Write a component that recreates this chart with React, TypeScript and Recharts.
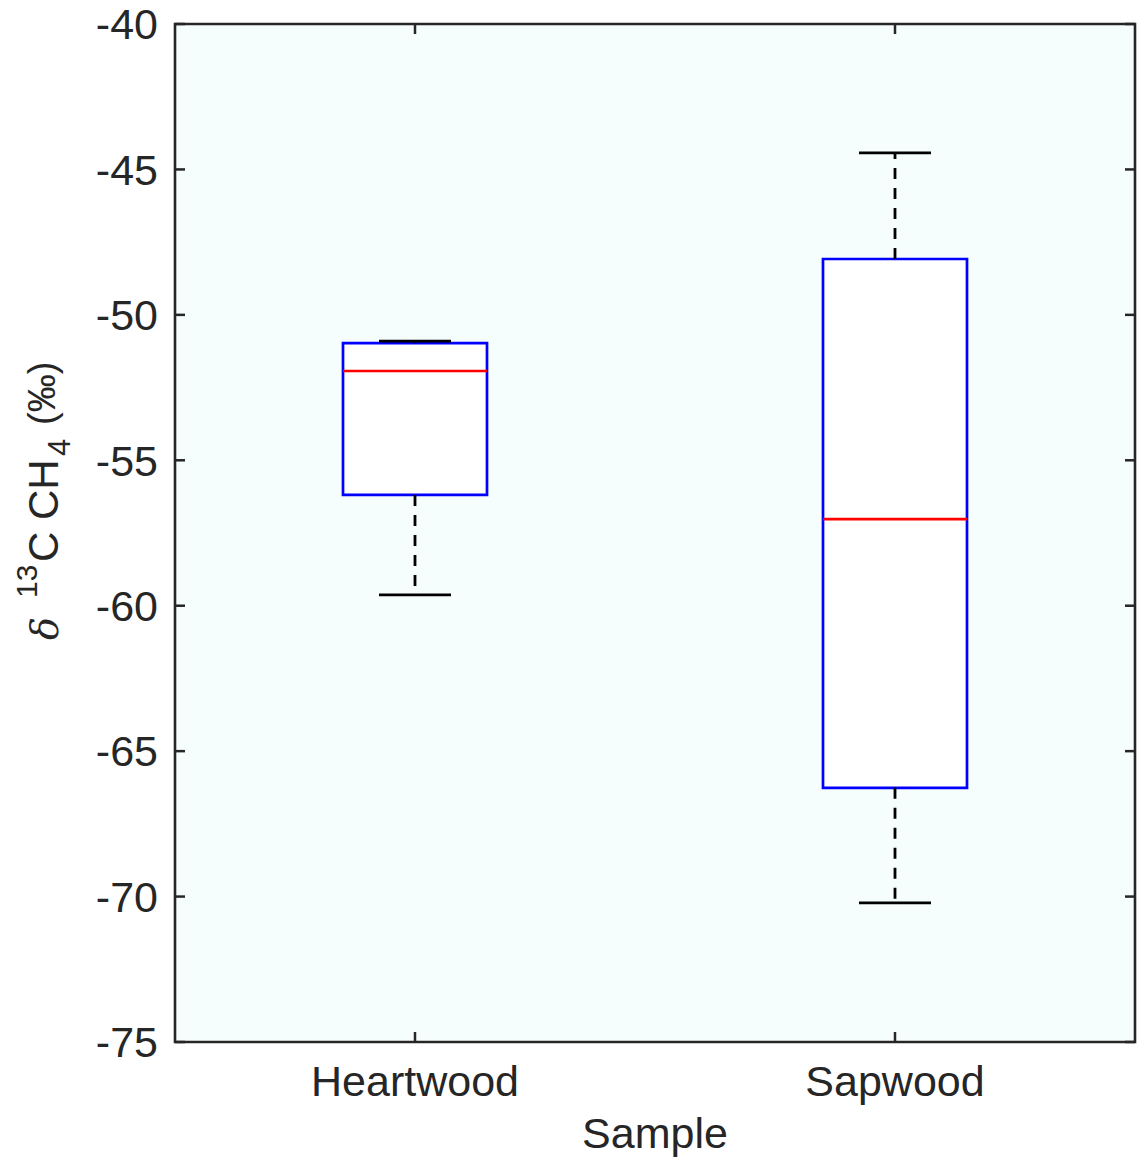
import React from 'react';
import {
  ComposedChart,
  XAxis,
  YAxis,
  CartesianGrid,
  ReferenceArea,
  ReferenceLine,
  Scatter,
} from 'recharts';

const categories = ['Heartwood', 'Sapwood'];
const whiskerLow = [-59.63, -70.22];
const q1 = [-56.19, -66.26];
const median = [-51.93, -57.02];
const q3 = [-50.97, -48.08];
const whiskerHigh = [-50.9, -44.43];
const yTicks = [-75, -70, -65, -60, -55, -50, -45, -40];
const yDomain: [number, number] = [-75, -40];
const xDomain: [number, number] = [0.5, 2.5];

const BOX_HALF = 0.15;
const CAP_HALF = 0.075;
const FONT = '"Liberation Sans", Arial, Helvetica, sans-serif';
const AXIS_COLOR = '#262626';
const TICK_FONT = 43;
const TICK_LEN = 10;

// plot-area layout (from chart margins)
const PLOT_LEFT = 175;
const PLOT_RIGHT = 1135;
const PLOT_TOP = 24;
const PLOT_BOTTOM = 1042;

const points = categories.map((c, i) => ({ x: i + 1, y: median[i] }));

const YTick = (props: any) => {
  const { y, payload } = props;
  return (
    <g>
      <line x1={PLOT_LEFT} x2={PLOT_LEFT + TICK_LEN} y1={y} y2={y} stroke={AXIS_COLOR} strokeWidth={2.5} />
      <line x1={PLOT_RIGHT - TICK_LEN} x2={PLOT_RIGHT} y1={y} y2={y} stroke={AXIS_COLOR} strokeWidth={2.5} />
      <text
        x={PLOT_LEFT - 17}
        y={y}
        dy="0.355em"
        textAnchor="end"
        fill={AXIS_COLOR}
        fontSize={TICK_FONT}
        fontFamily={FONT}
      >
        {payload.value}
      </text>
    </g>
  );
};

const XTick = (props: any) => {
  const { x, payload } = props;
  return (
    <g>
      <line x1={x} x2={x} y1={PLOT_BOTTOM} y2={PLOT_BOTTOM - TICK_LEN} stroke={AXIS_COLOR} strokeWidth={2.5} />
      <line x1={x} x2={x} y1={PLOT_TOP} y2={PLOT_TOP + TICK_LEN} stroke={AXIS_COLOR} strokeWidth={2.5} />
      <text
        x={x}
        y={1065}
        dy="0.71em"
        textAnchor="middle"
        fill={AXIS_COLOR}
        fontSize={TICK_FONT}
        fontFamily={FONT}
      >
        {categories[payload.value - 1] ?? ''}
      </text>
    </g>
  );
};

const YLabel = () => (
  <text
    transform="translate(58, 640) rotate(-90)"
    x={0}
    y={0}
    fill={AXIS_COLOR}
    fontFamily={FONT}
    fontSize={42}
  >
    <tspan x={0} y={0} fontStyle="italic" fontFamily='"DejaVu Serif", "Liberation Serif", serif' fontSize={38}>δ</tspan>
    <tspan x={42} y={-21} fontSize={30}>13</tspan>
    <tspan x={78} y={0} fontSize={42}>C CH</tspan>
    <tspan x={184} y={12} fontSize={31}>4</tspan>
    <tspan x={215} y={-3} fontSize={38}>(‰)</tspan>
  </text>
);

export default function App() {
  return (
    <div style={{ position: 'absolute', left: 0, top: 0, background: '#ffffff' }}>
      <ComposedChart
        width={1144}
        height={1159}
        data={points}
        margin={{ top: 24, right: 9, bottom: 0, left: 0 }}
        style={{ fontFamily: FONT }}
      >
        <CartesianGrid fill="#f6fdfd" horizontal={false} vertical={false} stroke="none" />
        <XAxis
          dataKey="x"
          type="number"
          domain={xDomain}
          ticks={[1, 2]}
          allowDataOverflow
          height={117}
          tickLine={false}
          axisLine={false}
          tick={(p: any) => <XTick {...p} />}
          label={{
            content: (props: any) => {
              const vb = props.viewBox || { x: 175, y: 1042, width: 960, height: 117 };
              return (
                <text
                  x={vb.x + vb.width / 2}
                  y={vb.y + 106}
                  textAnchor="middle"
                  fill={AXIS_COLOR}
                  fontSize={43}
                  fontFamily={FONT}
                >
                  Sample
                </text>
              );
            },
          }}
        />
        <YAxis
          dataKey="y"
          type="number"
          domain={yDomain}
          ticks={yTicks}
          allowDataOverflow
          width={175}
          tickLine={false}
          axisLine={false}
          tick={(p: any) => <YTick {...p} />}
          label={{ content: () => <YLabel /> }}
        />

        {categories.map((c, i) => (
          <ReferenceLine
            key={`wu-${c}`}
            segment={[
              { x: i + 1, y: q3[i] },
              { x: i + 1, y: whiskerHigh[i] },
            ]}
            stroke="#000000"
            strokeWidth={2.8}
            strokeDasharray="11 9"
          />
        ))}
        {categories.map((c, i) => (
          <ReferenceLine
            key={`wl-${c}`}
            segment={[
              { x: i + 1, y: q1[i] },
              { x: i + 1, y: whiskerLow[i] },
            ]}
            stroke="#000000"
            strokeWidth={2.8}
            strokeDasharray="11 9"
          />
        ))}
        {categories.map((c, i) => (
          <ReferenceLine
            key={`cu-${c}`}
            segment={[
              { x: i + 1 - CAP_HALF, y: whiskerHigh[i] },
              { x: i + 1 + CAP_HALF, y: whiskerHigh[i] },
            ]}
            stroke="#000000"
            strokeWidth={2.8}
          />
        ))}
        {categories.map((c, i) => (
          <ReferenceLine
            key={`cl-${c}`}
            segment={[
              { x: i + 1 - CAP_HALF, y: whiskerLow[i] },
              { x: i + 1 + CAP_HALF, y: whiskerLow[i] },
            ]}
            stroke="#000000"
            strokeWidth={2.8}
          />
        ))}
        {categories.map((c, i) => (
          <ReferenceArea
            key={`box-${c}`}
            x1={i + 1 - BOX_HALF}
            x2={i + 1 + BOX_HALF}
            y1={q1[i]}
            y2={q3[i]}
            fill="#ffffff"
            fillOpacity={1}
            stroke="#0000ff"
            strokeWidth={2.7}
          />
        ))}
        {categories.map((c, i) => (
          <ReferenceLine
            key={`med-${c}`}
            segment={[
              { x: i + 1 - BOX_HALF, y: median[i] },
              { x: i + 1 + BOX_HALF, y: median[i] },
            ]}
            stroke="#ff0000"
            strokeWidth={2.7}
          />
        ))}
        <ReferenceArea
          x1={xDomain[0]}
          x2={xDomain[1]}
          y1={yDomain[0]}
          y2={yDomain[1]}
          fill="none"
          fillOpacity={0}
          stroke={AXIS_COLOR}
          strokeWidth={2.6}
        />
        <Scatter dataKey="y" isAnimationActive={false} shape={() => <g />} />
      </ComposedChart>
    </div>
  );
}
